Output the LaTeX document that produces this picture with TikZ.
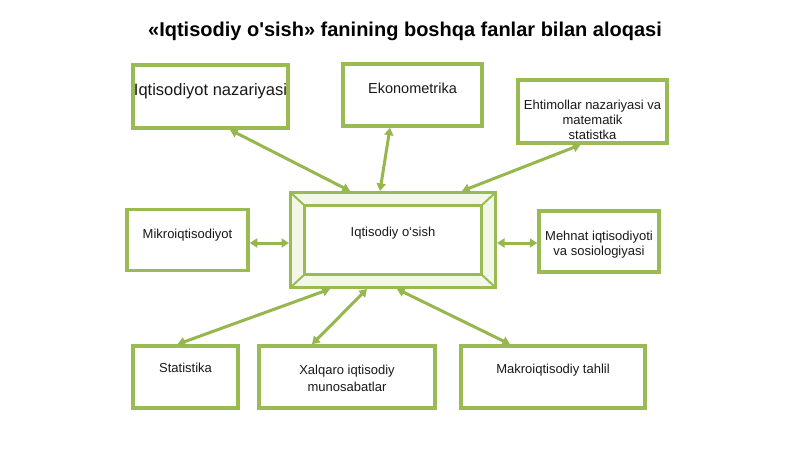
\documentclass[tikz,border=0pt]{standalone}
\usepackage{fontspec}
\setmainfont{Liberation Sans}
\usepackage{tikz}
\usetikzlibrary{arrows.meta}
\definecolor{boxgreen}{RGB}{154,186,84}
\definecolor{linkgreen}{RGB}{150,182,78}
\definecolor{hubfill}{RGB}{243,247,232}
\definecolor{inktext}{RGB}{25,25,25}
\tikzset{
    subject/.style={
           rectangle,
           draw=boxgreen, line width=3.5pt,
           fill=white,
           text=inktext,
           align=center,
           inner xsep=3pt,
           font=\fontsize{13}{16}\selectfont
           },
    hub/.style={
           rectangle,
           draw=boxgreen, line width=3pt,
           fill=hubfill,
           text=inktext,
           minimum width=205pt,
           minimum height=95pt,
           font=\fontsize{13}{16}\selectfont,
           path picture={
             % bevel lines from the outer frame to the inner panel
             \foreach \corner/\sx/\sy in {north west/1/-1, north east/-1/-1, south west/1/1, south east/-1/1}
               \draw[boxgreen, line width=2pt] (path picture bounding box.\corner)
                 -- ([shift={(\sx*14pt,\sy*13pt)}]path picture bounding box.\corner);
             \draw[boxgreen, line width=2.5pt, fill=white]
               ([shift={(14pt,-13pt)}]path picture bounding box.north west) rectangle
               ([shift={(-14pt,13pt)}]path picture bounding box.south east);
           }
           },
    link/.style={<->, draw=linkgreen, line width=3pt},
}

\begin{document}
\begin{tikzpicture}[>={Triangle[width=9pt,length=7.5pt]}, x=1pt, y=-1pt]
    \path[use as bounding box, fill=white] (0,0) rectangle (800,449);

    \node[font=\bfseries\fontsize{20}{24}\selectfont, text=black] (title) at (405,31)
        {«Iqtisodiy o\textquotesingle sish» fanining boshqa fanlar bilan aloqasi};

    % central subject
    \node[hub, text depth=16pt] (hub) at (393,240) {Iqtisodiy o`sish};

    % top row
    \node[subject,
          minimum width=155pt, minimum height=63pt,
          inner xsep=0pt, text depth=13pt,
          font=\fontsize{16.5}{18}\selectfont
          ] (theory) at (210.5,96.5) {Iqtisodiyot nazariyasi};
    \node[subject,
          minimum width=139pt, minimum height=62pt,
          text depth=14pt,
          font=\fontsize{14.5}{17}\selectfont
          ] (econ) at (412.5,95) {Ekonometrika};
    \node[subject,
          minimum width=149pt, minimum height=63pt,
          font=\fontsize{13}{15}\selectfont
          ] (chance) at (592.5,111.5)
        {\rule{0pt}{26pt}Ehtimollar nazariyasi va\\matematik\\statistka};

    % sides
    \node[subject,
          left of=hub,
          node distance=205.5pt,
          minimum width=121pt, minimum height=61pt,
          text depth=13pt
          ] (micro) {Mikroiqtisodiyot};
    \node[subject,
          right of=hub,
          node distance=206pt,
          yshift=-1.5pt,
          minimum width=120pt, minimum height=61pt,
          font=\fontsize{13}{15.5}\selectfont
          ] (labour) {\rule{0pt}{15.5pt}Mehnat iqtisodiyoti\\va sosiologiyasi};

    % bottom row
    \node[subject,
          minimum width=105pt, minimum height=62pt,
          text depth=18pt
          ] (stats) at (185.5,377) {Statistika};
    \node[subject,
          minimum width=176pt, minimum height=62pt,
          font=\fontsize{13}{17}\selectfont
          ] (intl) at (347,377) {\rule{0pt}{12pt}Xalqaro iqtisodiy\\munosabatlar};
    \node[subject,
          minimum width=184pt, minimum height=62pt,
          text depth=16pt
          ] (macro) at (553,377) {Makroiqtisodiy tahlil};

    \path
        ([xshift=19.5pt]theory.south) edge[link] ([xshift=-43pt]hub.north)
        ([xshift=-22.5pt]econ.south)  edge[link] ([xshift=-13pt]hub.north)
        ([xshift=-12pt]chance.south)  edge[link] ([xshift=69pt]hub.north)
        ([yshift=-3pt]micro.east)     edge[link] ([yshift=-3pt]hub.west)
        ([yshift=-3pt]hub.east)       edge[link] ([yshift=-1.5pt]labour.west)
        ([xshift=-63pt]hub.south)     edge[link] ([xshift=-8pt]stats.north)
        ([xshift=-26pt]hub.south)     edge[link] ([xshift=-35pt]intl.north)
        ([xshift=4pt]hub.south)       edge[link] ([xshift=-43pt]macro.north);
\end{tikzpicture}
\end{document}
